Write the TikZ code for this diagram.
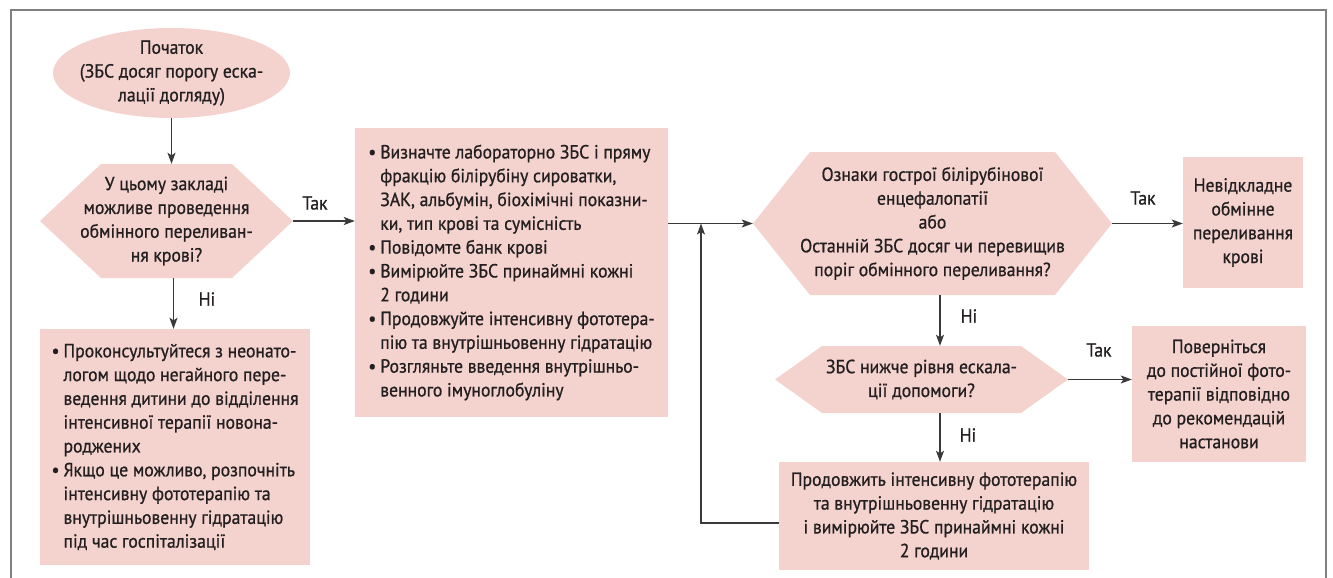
\documentclass[tikz,border=0pt]{standalone}
\usepackage{fontspec}
\setmainfont{PT Sans}[FakeStretch=0.93, FakeBold=0.8]
\usetikzlibrary{arrows.meta}
\definecolor{boxpink}{HTML}{F4D3CF}
\definecolor{ink}{HTML}{231F20}
\definecolor{framegray}{HTML}{808080}
\definecolor{wire}{HTML}{3A3A3A}
\newcommand\nodefont{\fontsize{19pt}{23.8pt}\selectfont}
\newcommand\itm{\makebox[12pt][l]{•}}
\newcommand\cnt{\hspace*{12pt}}

\begin{document}
\begin{tikzpicture}[x=1pt,y=-1pt,
  every node/.style={font=\nodefont, text=ink, inner sep=0pt},
  box/.style={fill=boxpink, align=center},
  bullets/.style={fill=boxpink, align=left},
  hexnode/.style={align=center, path picture={
    \fill[boxpink] (path picture bounding box.west)
      -- ([xshift=#1]path picture bounding box.north west)
      -- ([xshift=-#1]path picture bounding box.north east)
      -- (path picture bounding box.east)
      -- ([xshift=-#1]path picture bounding box.south east)
      -- ([xshift=#1]path picture bounding box.south west) -- cycle;}},
  startnode/.style={align=center, path picture={
    \fill[boxpink] (path picture bounding box.center) ellipse [x radius=118.5pt, y radius=45pt];}},
  arr/.style={draw=wire, line width=1.2pt, -{Stealth[length=11pt,width=8pt,inset=2.5pt]}},
  lbl/.style={font=\nodefont},
]
\useasboundingbox (0,0) rectangle (1333,578);

% outer frame, open at the bottom
\draw[framegray, line width=2.5pt] (11,578) -- (11,10) -- (1326,10) -- (1326,578);

% start
\node[startnode, minimum width=237pt, minimum height=90pt] (start) at (171.5,73)
  {Початок\\(ЗБС досяг порогу еска-\\лації догляду)};

% first decision
\node[hexnode=61pt, minimum width=253pt, minimum height=114pt] (q1) at (166.5,221)
  {У цьому закладі\\можливе проведення\\обмінного переливан-\\ня крові?};

% lab work-up
\node[bullets, minimum width=313pt, minimum height=289pt] (labs) at (511.5,272.5)
  {\itm Визначте лабораторно ЗБС і пряму\\
   \cnt фракцію білірубіну сироватки,\\
   \cnt ЗАК, альбумін, біохімічні показни-\\
   \cnt ки, тип крові та сумісність\\
   \itm Повідомте банк крові\\
   \itm Вимірюйте ЗБС принаймні кожні\\
   \cnt 2 години\\
   \itm Продовжуйте інтенсивну фототера-\\
   \cnt пію та внутрішньовенну гідратацію\\
   \itm Розгляньте введення внутрішньо-\\
   \cnt венного імуноглобуліну};

% transfer to NICU
\node[bullets, minimum width=270pt, minimum height=236pt] (nicu) at (175,447)
  {\itm Проконсультуйтеся з неонато-\\
   \cnt логом щодо негайного пере-\\
   \cnt ведення дитини до відділення\\
   \cnt інтенсивної терапії новона-\\
   \cnt роджених\\
   \itm Якщо це можливо, розпочніть\\
   \cnt інтенсивну фототерапію та\\
   \cnt внутрішньовенну гідратацію\\
   \cnt під час госпіталізації};

% second decision
\node[hexnode=57pt, minimum width=359pt, minimum height=143pt] (q2) at (932.5,223.5)
  {Ознаки гострої білірубінової\\енцефалопатії\\або\\Останній ЗБС досяг чи перевищив\\поріг обмінного переливання?};

\node[box, minimum width=120pt, minimum height=131pt] (exch) at (1243,222.5)
  {Невідкладне\\обмінне\\переливання\\крові};

% third decision
\node[hexnode=47pt, minimum width=293pt, minimum height=67pt] (q3) at (921.5,379.5)
  {ЗБС нижче рівня ескала-\\ції допомоги?};

\node[box, minimum width=310pt, minimum height=108pt] (cont) at (934,516)
  {Продовжить інтенсивну фототерапію\\та внутрішньовенну гідратацію\\і вимірюйте ЗБС принаймні кожні\\2 години};

\node[box, minimum width=174pt, minimum height=136pt] (back) at (1219,394)
  {Поверніться\\до постійної фото-\\терапії відповідно\\до рекомендацій\\настанови};

% branch labels
\node[lbl] (yes1) at (315,203) {Так};
\node[lbl] (no1) at (207,299) {Ні};
\node[lbl] (yes2) at (1143,198) {Так};
\node[lbl] (no2) at (969,316) {Ні};
\node[lbl] (yes3) at (1099,350) {Так};
\node[lbl] (no3) at (968,435) {Ні};

% connectors
\draw[arr] (start.south) -- (start.south |- q1.north);
\draw[arr] (q1.east) -- (q1.east -| labs.west);
\draw[arr] ([xshift=7pt]q1.south) -- ([xshift=7pt]q1.south |- nicu.north);
\draw[arr] (labs.east |- q2.west) -- (q2.west);
\draw[arr] (q2.east) -- (q2.east -| exch.west);
\draw[arr] ([xshift=7.5pt]q2.south) -- ([xshift=7.5pt]q2.south |- q3.north);
\draw[arr] (q3.east) -- (q3.east -| back.west);
\draw[arr] ([xshift=18.5pt]q3.south) -- ([xshift=18.5pt]q3.south |- cont.north);
\coordinate (loop) at (701,523);
\draw[arr] ([yshift=-7pt]cont.west) -- (loop) -- (loop |- q2.west);
\end{tikzpicture}
\end{document}
